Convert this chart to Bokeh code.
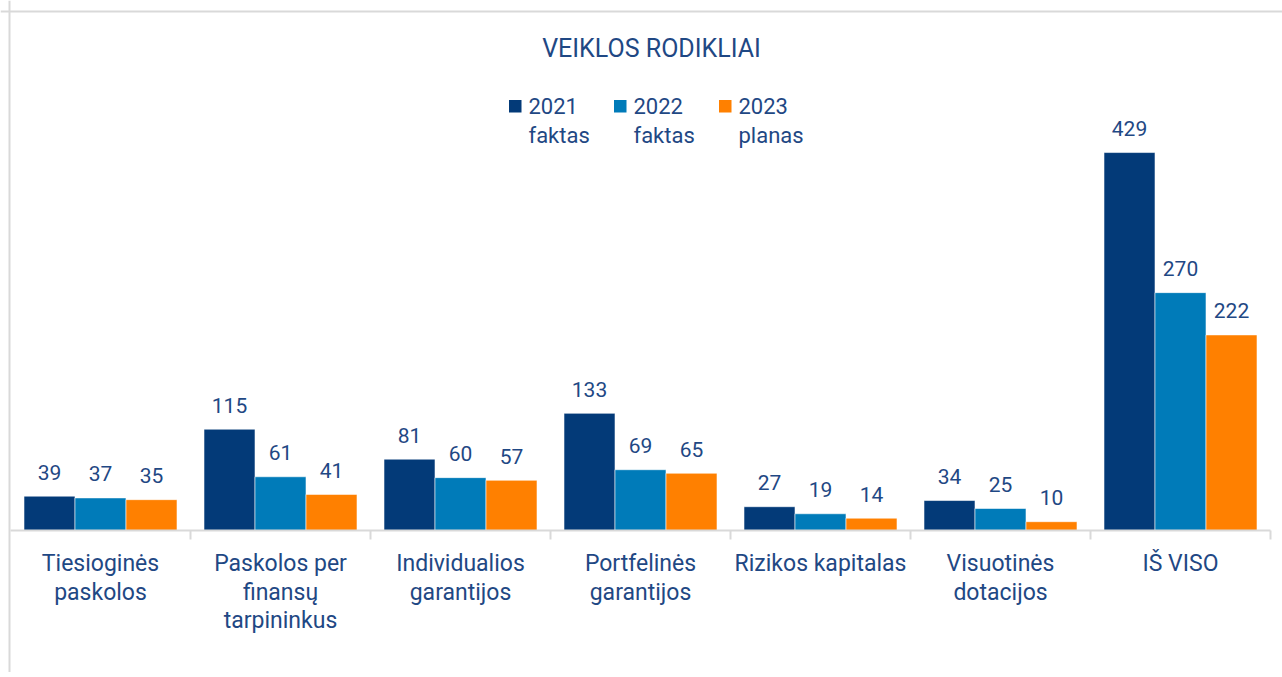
from bokeh.plotting import figure
from bokeh.models import ColumnDataSource, Range1d, Span, Label, BoxAnnotation
from bokeh.core.properties import value
from bokeh.embed import file_html
from bokeh.resources import INLINE

# ---------------- data ----------------
categories = ["Tiesioginės\npaskolos", "Paskolos per\nfinansų\ntarpininkus",
              "Individualios\ngarantijos", "Portfelinės\ngarantijos",
              "Rizikos kapitalas", "Visuotinės\ndotacijos", "IŠ VISO"]
series = ["2021\nfaktas", "2022\nfaktas", "2023\nplanas"]
v2021 = [39, 115, 81, 133, 27, 34, 429]
v2022 = [37, 61, 60, 69, 19, 25, 270]
v2023 = [35, 41, 57, 65, 14, 10, 222]
values = [v2021, v2022, v2023]
colors = ["#033a78", "#007bb9", "#ff8000"]
title_text = "VEIKLOS RODIKLIAI"

# ---------------- layout ----------------
W, H = 1282, 672
PAGE_X0, PAGE_Y0 = 0, 0
CAT_PX = 180.0          # pixels per category
X_ORIGIN = 10.0         # page x of first category start
BASE_Y = 530.0          # page y of value 0
PX_PER_UNIT = 0.881

def px2x(px):
    return (px - X_ORIGIN) / CAT_PX

def px2y(py):
    return (BASE_Y - py) / PX_PER_UNIT

FONT = value("Roboto")
TXT = "#1f4884"
GRAY = "#d9d9d9"

p = figure(width=W, height=H, output_backend="svg", toolbar_location=None,
           x_range=Range1d(px2x(PAGE_X0), px2x(PAGE_X0 + W)),
           y_range=Range1d(px2y(PAGE_Y0 + H), px2y(PAGE_Y0)),
           x_axis_location=None, y_axis_location=None,
           min_border=0, tools="")
p.grid.visible = False
p.outline_line_color = None
p.background_fill_color = "white"
p.border_fill_color = "white"

# frame borders (left and top)
p.add_layout(Span(location=px2x(9), dimension="height", line_color=GRAY, line_width=2))
p.add_layout(Span(location=px2y(11), dimension="width", line_color=GRAY, line_width=2))

# bars
n = len(categories)
bw = 51.0 / CAT_PX
offsets = [-bw, 0.0, bw]
for s, (vals, col, off) in enumerate(zip(values, colors, offsets)):
    src = ColumnDataSource(dict(x=[i + 0.5 + off for i in range(n)], top=vals,
                                lab=[str(v) for v in vals]))
    p.vbar(x="x", top="top", width=bw, bottom=0, source=src,
           fill_color=col, line_color="white", line_width=0.8, line_alpha=0.7)
    p.text(x="x", y="top", text="lab", source=src, text_font=FONT,
           text_font_size="21px", text_color=TXT, text_align="center",
           text_baseline="alphabetic", y_offset=-24)

# axis line and ticks
p.segment(x0=[0], y0=[0], x1=[n], y1=[0], line_color=GRAY, line_width=2)
p.segment(x0=list(range(1, n + 1)), y0=[0] * n, x1=list(range(1, n + 1)),
          y1=[-9 / PX_PER_UNIT] * n, line_color=GRAY, line_width=2)

# category labels
lx, ly, lt, lo = [], [], [], []
for i, c in enumerate(categories):
    for k, line in enumerate(c.split("\n")):
        lx.append(i + 0.5)
        ly.append(0)
        lt.append(line)
        lo.append(33 + 28.5 * k)
p.text(x=lx, y=ly, text=lt, y_offset=lo, text_font=FONT, text_font_size="23px",
       text_color=TXT, text_align="center", text_baseline="alphabetic")

# title
p.add_layout(Label(x=px2x(651), y=px2y(48), text=title_text, text_font="Roboto",
                   text_font_size="25px", text_color=TXT, text_align="center",
                   text_baseline="alphabetic"))

# legend
leg_sq_x = [508.5, 613.5, 718.5]
for name, col, sx in zip(series, colors, leg_sq_x):
    p.add_layout(BoxAnnotation(left=px2x(sx), right=px2x(sx + 12.5),
                               top=px2y(99.5), bottom=px2y(112),
                               fill_color=col, fill_alpha=1, line_color=None))
    for k, line in enumerate(name.split("\n")):
        p.add_layout(Label(x=px2x(sx + 19.5), y=px2y(105 + 29.5 * k), text=line,
                           text_font="Roboto", text_font_size="22px", text_color=TXT,
                           text_align="left", text_baseline="alphabetic"))

open("out.html", "w").write(file_html(p, INLINE))
